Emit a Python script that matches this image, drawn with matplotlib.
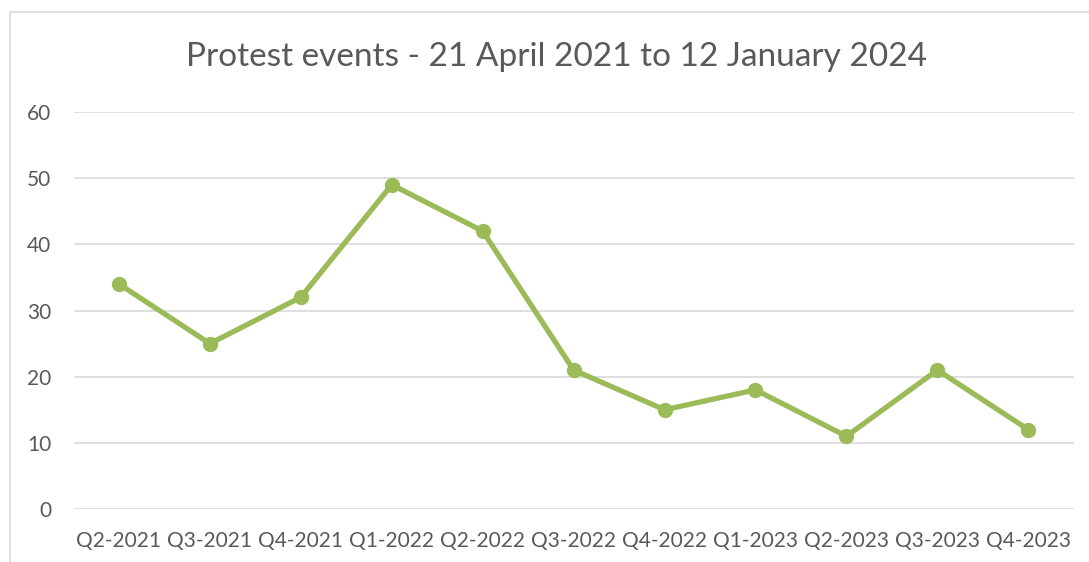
import matplotlib.pyplot as plt
import matplotlib.patches as patches

quarters = ["Q2-2021", "Q3-2021", "Q4-2021", "Q1-2022", "Q2-2022", "Q3-2022",
            "Q4-2022", "Q1-2023", "Q2-2023", "Q3-2023", "Q4-2023"]
events = [34, 25, 32, 49, 42, 21, 15, 18, 11, 21, 12]

plt.rcParams['font.family'] = ['Lato', 'DejaVu Sans']
txt = "#595959"
green = "#9BBB59"

fig = plt.figure(figsize=(10.89, 5.62), dpi=100)
ax = fig.add_axes([0.0675, 0.0943, 0.9185, 0.7064])

# chart border (only left/top visible in the crop)
fig.patches.append(patches.Rectangle((10 / 1089, -0.1), 1.2, 1 - 12 / 562 + 0.1,
                                     transform=fig.transFigure, fill=False,
                                     edgecolor="#D9D9D9", linewidth=1.2))

x = range(len(quarters))
ax.plot(x, events, color=green, linewidth=3.8, marker='o', markersize=10,
        solid_capstyle='round', zorder=3)

ax.set_xlim(-0.5, len(quarters) - 0.5)
ax.set_ylim(0, 60)
ax.set_yticks(range(0, 61, 10))
ax.set_xticks(list(x))
ax.set_xticklabels(quarters)
ax.grid(axis='y', color="#D9D9D9", linewidth=1.2)
ax.set_axisbelow(True)
for s in ax.spines.values():
    s.set_visible(False)
ax.tick_params(length=0, labelsize=15, colors=txt)
ax.tick_params(axis='x', pad=16)
ax.tick_params(axis='y', pad=16)

fig.text(0.511, 0.898, "Protest events - 21 April 2021 to 12 January 2024",
         ha='center', va='center', fontsize=24, color=txt)

fig.savefig("out.png", dpi=100)
